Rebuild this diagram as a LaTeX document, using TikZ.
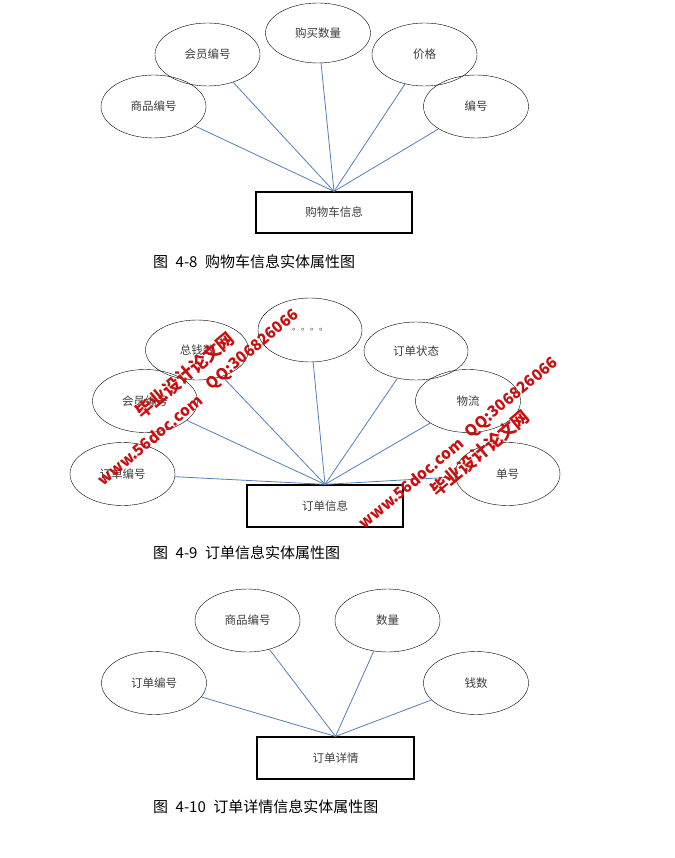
\documentclass[tikz,border=0pt]{standalone}
\usepackage{tikz}
\usepackage{xcolor}
\usepackage{fontspec}
\usetikzlibrary{shapes.geometric}
\newfontfamily\cjk{Noto Sans CJK SC}
\definecolor{linkblue}{RGB}{84,126,185}
\definecolor{labelgray}{RGB}{60,60,60}
\definecolor{markred}{RGB}{200,16,16}
\tikzstyle{attr} = [ellipse, draw, minimum width=105pt, minimum height=63pt, inner sep=0pt, text=labelgray, font=\cjk\fontsize{11.5}{13}\selectfont]
\tikzstyle{entity} = [rectangle, draw, line width=1.2pt, minimum width=156pt, minimum height=41pt, text=labelgray, font=\cjk\fontsize{11.5}{13}\selectfont]
\tikzstyle{link} = [draw=linkblue, line width=0.8pt]
\tikzstyle{caption} = [anchor=west, inner sep=0pt, font=\cjk\fontsize{15}{17}\selectfont]
\tikzstyle{wm} = [rotate=40, inner sep=0pt, text=markred, font=\cjk\bfseries\fontsize{17.5}{20}\selectfont]
\tikzstyle{wmlatin} = [wm, font=\cjk\bfseries\fontsize{15.5}{18}\selectfont]

\begin{document}
\begin{tikzpicture}[x=1pt,y=-1pt,thin]
  \useasboundingbox (0,0) rectangle (674,858);

  % 4-8
  \node[entity] (cart) at (334,212.5) {购物车信息};
  \node[attr] (goods_id) at (153.5,106.5) {商品编号};
  \node[attr] (member_id) at (207.5,54.5) {会员编号};
  \node[attr, minimum height=60pt] (quantity) at (318,33) {购买数量};
  \node[attr] (price) at (424.5,54.5) {价格};
  \node[attr] (cart_id) at (476,106.5) {编号};
  \node[caption] (cap_cart) at (153,262) {图\hspace{0.5em}4-8\hspace{0.5em}购物车信息实体属性图};

  \path (goods_id) edge[link] (cart.north);
  \path (member_id) edge[link] (cart.north);
  \path (quantity) edge[link] (cart.north);
  \path (price) edge[link] (cart.north);
  \path (cart_id) edge[link] (cart.north);

  % 4-9
  \node[entity, minimum height=42pt] (order) at (325,506) {订单信息};
  \node[attr] (order_no) at (122.5,474) {订单编号};
  \node[attr] (member_no) at (145,401) {会员编号};
  \node[attr, minimum width=103pt, minimum height=60pt] (total) at (197,350) {总钱数};
  \node[attr, minimum width=104pt, minimum height=64pt, font=\cjk\fontsize{9}{10}\selectfont] (dots) at (310,330) {。。。。};
  \node[attr, minimum width=104pt, minimum height=58pt] (status) at (416,351) {订单状态};
  \node[attr] (logistics) at (468,401) {物流};
  \node[attr] (serial) at (507.5,474) {单号};
  \node[caption] (cap_order) at (153,553) {图\hspace{0.5em}4-9\hspace{0.5em}订单信息实体属性图};

  \path (order_no) edge[link] (order.north);
  \path (member_no) edge[link] (order.north);
  \path (total) edge[link] (order.north);
  \path (dots) edge[link] (order.north);
  \path (status) edge[link] (order.north);
  \path (logistics) edge[link] (order.north);
  \path (serial) edge[link] (order.north);

  % 4-10
  \node[entity, minimum width=157pt, minimum height=42pt] (detail) at (335.5,758) {订单详情};
  \node[attr] (d_order_no) at (154,683) {订单编号};
  \node[attr] (d_goods_id) at (247.5,620.5) {商品编号};
  \node[attr] (d_amount) at (387.5,620.5) {数量};
  \node[attr] (d_money) at (476,683) {钱数};
  \node[caption] (cap_detail) at (153,807) {图\hspace{0.5em}4-10\hspace{0.5em}订单详情信息实体属性图};

  \path (d_order_no) edge[link] (detail.north);
  \path (d_goods_id) edge[link] (detail.north);
  \path (d_amount) edge[link] (detail.north);
  \path (d_money) edge[link] (detail.north);

  % watermark
  \node[wm] (wm_a1) at (185,375) {毕业设计论文网};
  \node[wmlatin] (wm_a2) at (150,440) {www.56doc.com};
  \node[wmlatin] (wm_a3) at (253,350) {QQ:306826066};
  \node[wm] (wm_b1) at (480,453) {毕业设计论文网};
  \node[wmlatin] (wm_b2) at (411,483) {www.56doc.com};
  \node[wmlatin] (wm_b3) at (512,398) {QQ:306826066};
\end{tikzpicture}
\end{document}
